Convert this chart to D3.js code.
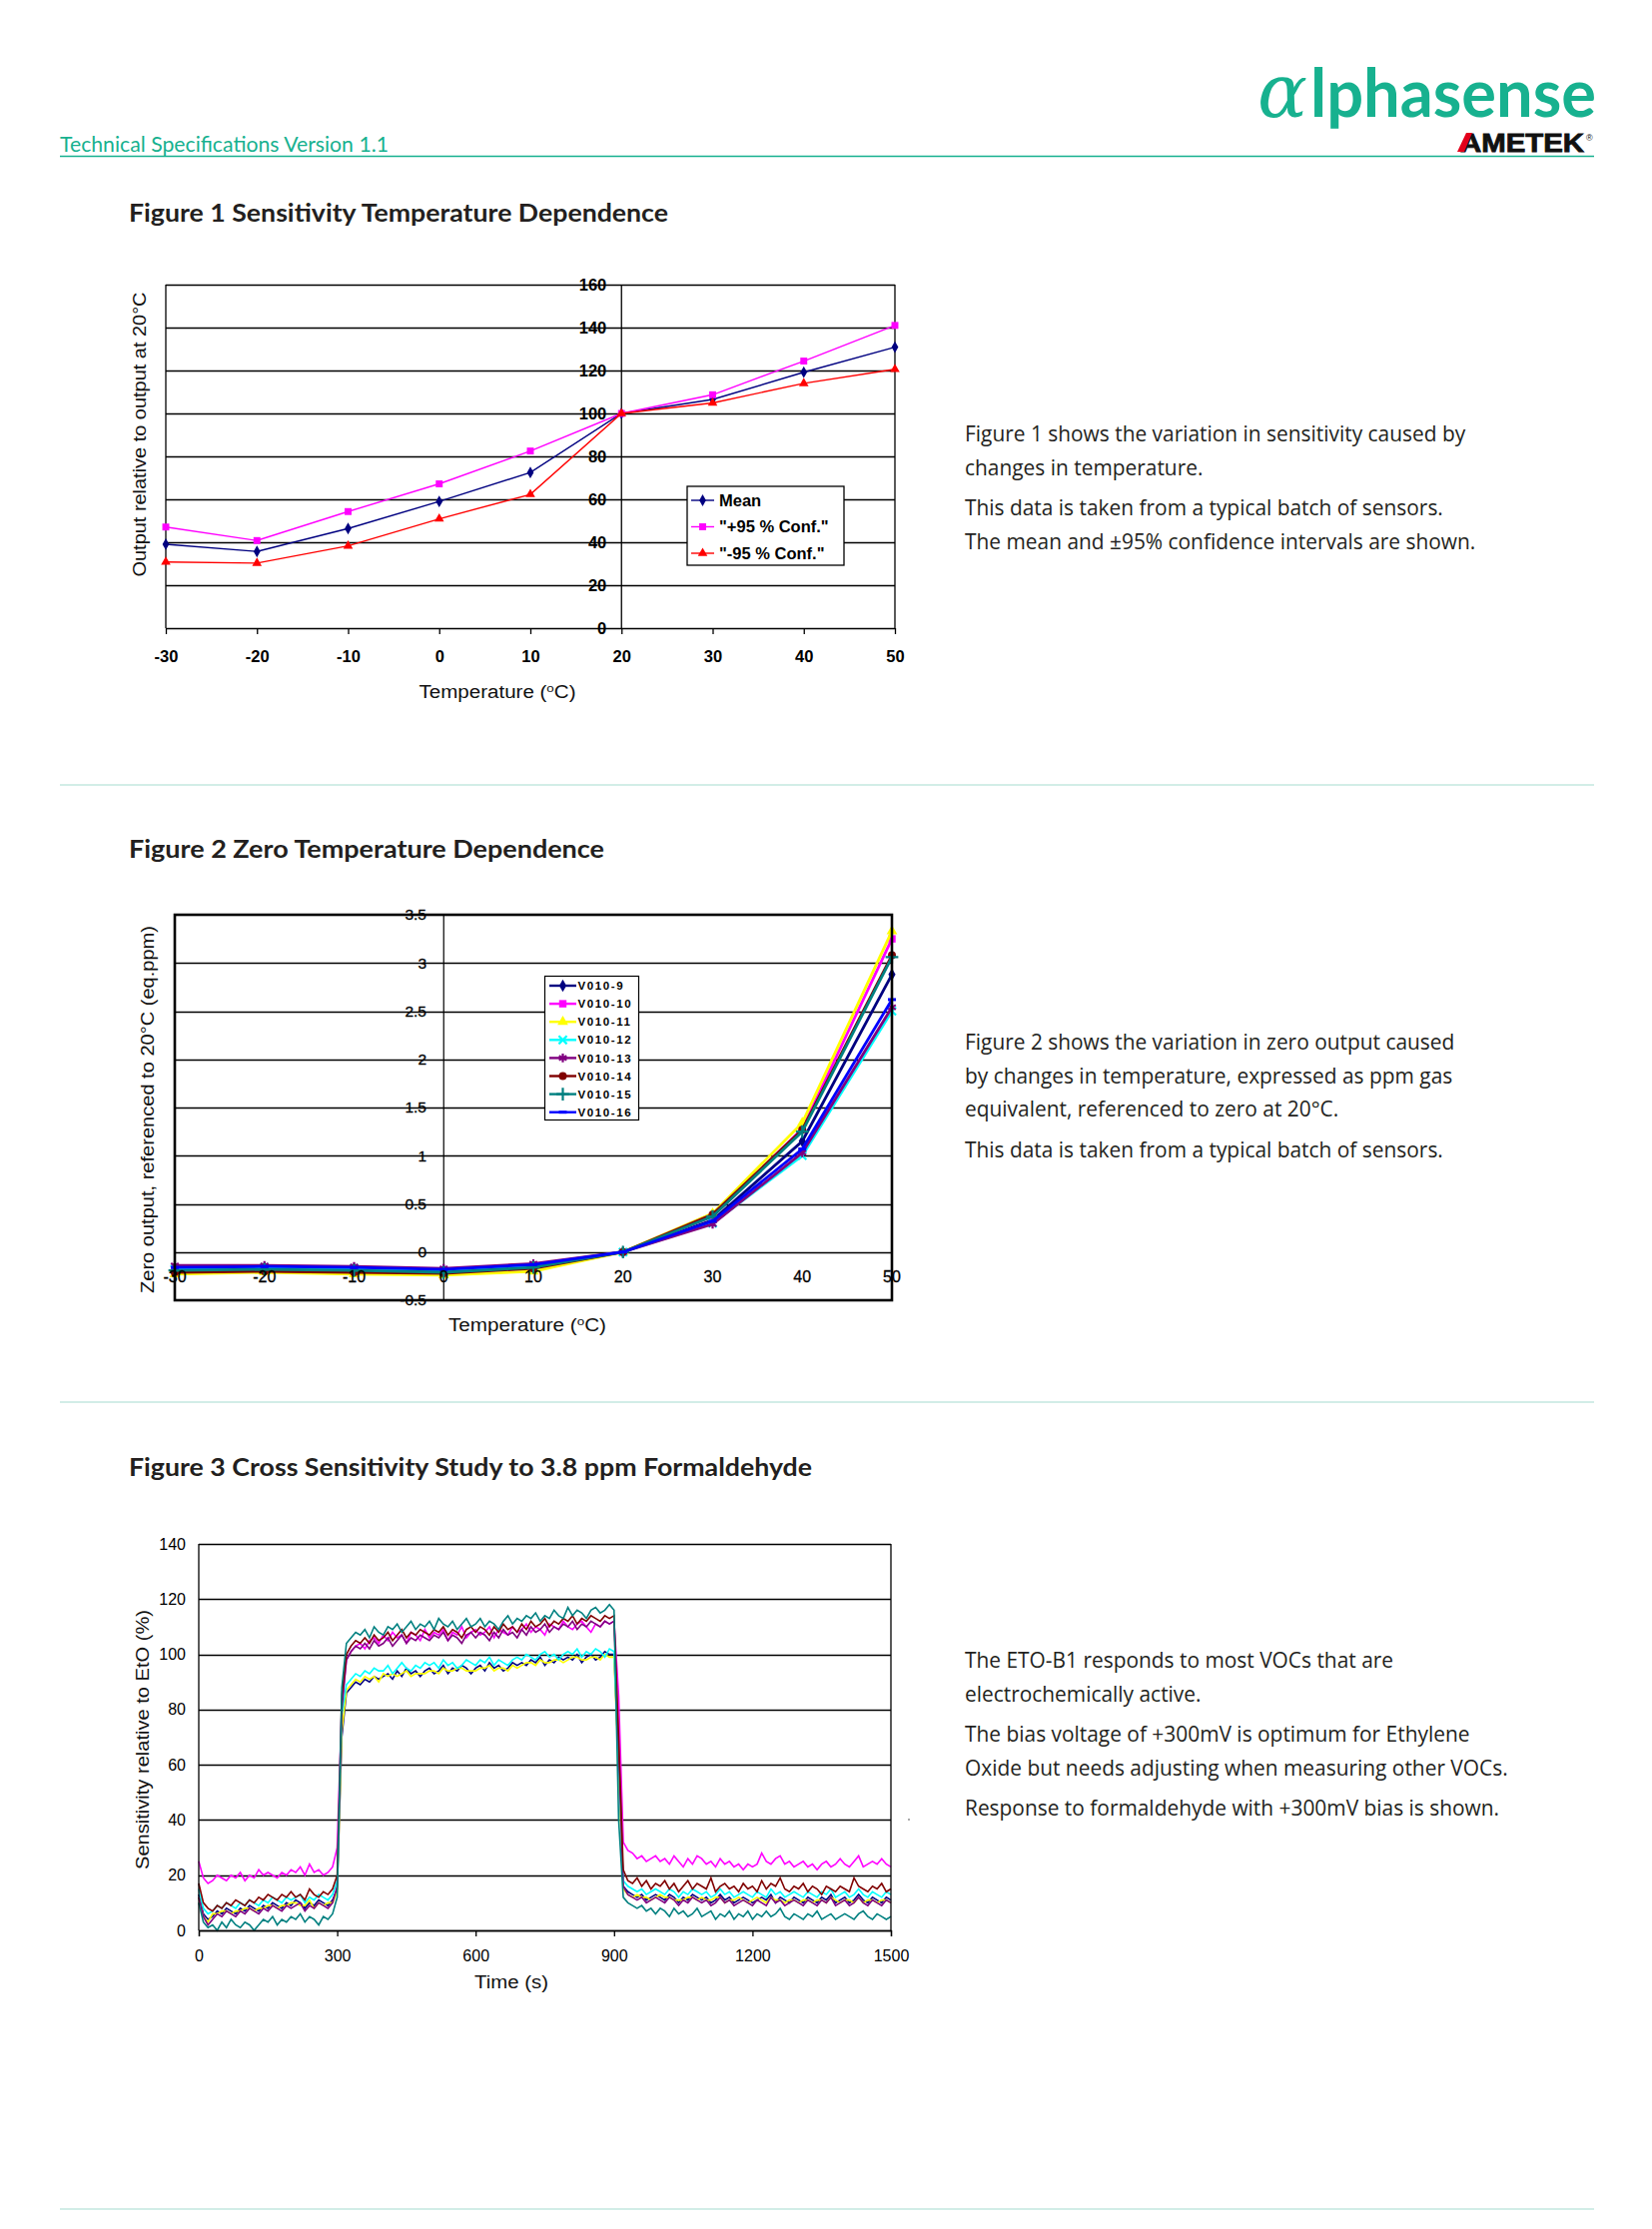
<!DOCTYPE html>
<html>
<head>
<meta charset="utf-8">
<script src="https://cdn.jsdelivr.net/npm/d3@7"></script>
<style>
  html, body { margin: 0; padding: 0; background: #fff; }
  svg { display: block; }
</style>
</head>
<body>
<div id="page"></div>
<script>
// ---------- figure 1 data ----------
const fig1Temps = [-30, -20, -10, 0, 10, 20, 30, 40, 50];
const fig1Mean  = [39.1, 35.7, 46.4, 59.0, 72.5, 100, 106.5, 119.2, 130.9];
const fig1Upper = [47.1, 40.8, 54.3, 67.2, 82.5, 100, 108.7, 124.4, 141.0];
const fig1Lower = [30.8, 30.3, 38.3, 50.9, 62.3, 100, 104.9, 114.0, 120.6];
const fig1Names = ['Mean', '"+95 % Conf."', '"-95 % Conf."'];
const fig1YTicks = [0, 20, 40, 60, 80, 100, 120, 140, 160];

// ---------- figure 2 data ----------
const fig2Temps = [-30, -20, -10, 0, 10, 20, 30, 40, 50];
const v010_9  = [-0.17, -0.16, -0.17, -0.19, -0.14, 0, 0.33, 1.15, 2.88];
const v010_10 = [-0.20, -0.18, -0.19, -0.21, -0.15, 0, 0.37, 1.28, 3.25];
const v010_11 = [-0.23, -0.21, -0.23, -0.24, -0.20, 0, 0.40, 1.34, 3.33];
const v010_12 = [-0.18, -0.16, -0.17, -0.20, -0.15, 0, 0.30, 1.00, 2.50];
const v010_13 = [-0.14, -0.14, -0.15, -0.17, -0.12, 0, 0.29, 1.03, 2.54];
const v010_14 = [-0.21, -0.20, -0.21, -0.22, -0.17, 0, 0.39, 1.27, 3.08];
const v010_15 = [-0.19, -0.18, -0.19, -0.21, -0.16, 0, 0.37, 1.25, 3.06];
const v010_16 = [-0.16, -0.15, -0.16, -0.18, -0.13, 0, 0.32, 1.07, 2.62];
const fig2Names = ['V010-9', 'V010-10', 'V010-11', 'V010-12', 'V010-13', 'V010-14', 'V010-15', 'V010-16'];
const fig2YTicks = [-0.5, 0, 0.5, 1, 1.5, 2, 2.5, 3, 3.5];

// ---------- figure 3 data (one reading every 10 s, 0..1500 s) ----------
const fig3Step = 10;
const f3Navy = [
  13, 6, 4, 5, 7, 6, 8, 7, 6, 8,
  7, 9, 8, 7, 9, 8, 10, 9, 8, 10,
  9, 11, 10, 8, 10, 9, 11, 10, 9, 11,
  15, 70, 86, 88, 90, 89, 91, 90, 92, 91,
  92, 93, 91, 94, 92, 95, 93, 94, 92, 94,
  95, 93, 94, 96, 93, 95, 94, 96, 95, 93,
  95, 96, 94, 97, 95, 96, 94, 95, 97, 96,
  97, 96, 98, 97, 99, 96, 98, 97, 99, 98,
  99, 98, 100, 97, 99, 100, 98, 99, 101, 100,
  100, 60, 16, 14, 13, 12, 13, 11, 12, 13,
  12, 11, 13, 12, 10, 12, 11, 13, 12, 11,
  12, 10, 11, 13, 11, 12, 10, 11, 12, 11,
  10, 11, 12, 11, 13, 10, 12, 11, 10, 12,
  11, 10, 12, 11, 10, 12, 11, 13, 10, 11,
  12, 10, 11, 13, 11, 10, 12, 11, 10, 12,
  11];
const f3Magenta = [
  25, 19, 17, 18, 20, 19, 18, 20, 19, 21,
  18, 20, 19, 22, 20, 21, 20, 19, 21, 20,
  22, 21, 23, 20, 24, 21, 22, 20, 21, 23,
  30, 82, 98, 101, 103, 104, 102, 105, 106, 104,
  107, 105, 108, 106, 107, 104, 108, 107, 105, 109,
  106, 108, 107, 109, 105, 108, 107, 110, 106, 108,
  109, 107, 108, 110, 106, 109, 108, 107, 110, 108,
  109, 111, 108, 110, 109, 107, 111, 110, 109, 112,
  110, 109, 111, 112, 110, 108, 111, 110, 112, 111,
  112, 85, 32, 29, 28, 26, 27, 25, 26, 27,
  25, 26, 24, 27, 25, 23, 26, 24, 27, 26,
  24, 25, 23, 26, 24, 25, 23, 24, 22, 24,
  23, 24, 28, 25, 24, 26, 27, 24, 25, 23,
  24, 25, 23, 24, 22, 24, 25, 23, 24, 26,
  24, 23, 25, 27, 23, 24, 25, 24, 26, 24,
  23];
const f3Yellow = [
  12, 5, 3, 6, 6, 7, 7, 6, 7, 7,
  8, 8, 7, 8, 8, 9, 9, 8, 9, 9,
  10, 10, 9, 9, 11, 8, 10, 9, 10, 10,
  14, 72, 87, 89, 91, 90, 92, 91, 92, 90,
  93, 92, 93, 92, 93, 94, 92, 93, 93, 93,
  94, 94, 93, 95, 94, 94, 95, 95, 94, 94,
  94, 95, 95, 96, 94, 95, 95, 94, 96, 95,
  96, 97, 97, 96, 98, 97, 97, 98, 98, 97,
  98, 99, 99, 98, 98, 99, 99, 98, 100, 99,
  99, 58, 15, 13, 12, 13, 12, 12, 11, 12,
  13, 12, 12, 11, 11, 11, 12, 12, 11, 12,
  11, 11, 12, 12, 10, 11, 11, 12, 11, 10,
  11, 12, 11, 10, 12, 11, 11, 10, 11, 11,
  10, 11, 11, 10, 11, 11, 10, 12, 11, 10,
  11, 11, 10, 12, 10, 11, 11, 10, 11, 11,
  10];
const f3Cyan = [
  15, 8, 6, 7, 9, 8, 10, 9, 8, 10,
  9, 11, 10, 9, 11, 10, 12, 11, 10, 12,
  11, 12, 13, 10, 12, 11, 13, 12, 11, 13,
  18, 78, 89, 91, 93, 92, 94, 93, 95, 94,
  94, 96, 93, 95, 97, 95, 94, 96, 95, 97,
  96, 97, 95, 98, 96, 97, 95, 96, 98, 97,
  96, 98, 97, 99, 96, 98, 97, 96, 98, 99,
  98, 100, 99, 98, 100, 101, 99, 100, 98, 100,
  101, 100, 102, 99, 101, 100, 102, 101, 99, 102,
  101, 62, 18, 16, 15, 14, 15, 13, 14, 15,
  14, 13, 15, 14, 12, 14, 13, 15, 14, 13,
  14, 12, 13, 15, 13, 14, 12, 13, 14, 13,
  12, 14, 13, 12, 15, 13, 14, 12, 13, 14,
  13, 12, 14, 13, 12, 14, 13, 15, 12, 13,
  14, 12, 13, 15, 13, 12, 14, 13, 12, 14,
  13];
const f3Purple = [
  12, 5, 2, 4, 6, 5, 7, 6, 5, 7,
  6, 8, 7, 6, 8, 7, 9, 8, 7, 9,
  8, 9, 10, 7, 9, 8, 10, 9, 8, 10,
  16, 80, 98, 101, 103, 102, 104, 102, 105, 103,
  104, 106, 103, 105, 107, 104, 106, 105, 107, 106,
  105, 107, 106, 108, 105, 107, 106, 104, 107, 108,
  106, 108, 107, 105, 108, 106, 109, 107, 108, 106,
  109, 107, 110, 108, 109, 111, 108, 110, 109, 111,
  110, 112, 109, 111, 110, 112, 111, 110, 112, 111,
  112, 66, 16, 13, 12, 11, 12, 10, 11, 12,
  11, 10, 12, 11, 9, 11, 10, 12, 11, 10,
  11, 9, 10, 12, 10, 11, 9, 10, 11, 10,
  9, 11, 10, 9, 12, 10, 11, 9, 10, 11,
  10, 9, 11, 10, 9, 11, 10, 12, 9, 10,
  11, 9, 10, 12, 10, 9, 11, 10, 9, 11,
  10];
const f3Maroon = [
  17, 10, 8, 7, 9, 8, 10, 9, 11, 10,
  9, 11, 10, 12, 11, 13, 12, 11, 13, 12,
  14, 12, 13, 11, 15, 13, 12, 14, 13, 15,
  20, 85, 100, 103, 105, 104, 106, 104, 107, 105,
  106, 108, 105, 107, 109, 106, 108, 107, 109, 108,
  107, 109, 108, 110, 107, 109, 108, 106, 109, 110,
  108, 110, 109, 107, 110, 108, 111, 109, 110, 108,
  111, 109, 112, 110, 111, 113, 110, 112, 111, 113,
  112, 114, 111, 113, 112, 114, 113, 112, 114, 113,
  114, 70, 22, 18, 17, 19, 16, 18, 15, 17,
  16, 18, 15, 17, 14, 16, 18, 15, 17, 16,
  15, 19, 14, 16, 17, 15, 16, 14, 17, 15,
  16, 14, 18, 15, 17, 16, 19, 15, 14, 16,
  15, 17, 14, 16, 15, 13, 16, 15, 14, 16,
  15, 14, 19, 16, 15, 14, 16, 15, 17, 14,
  15];
const f3Teal = [
  10, 3, 1, 2, 0, 3, 1, 4, 2, 1,
  3, 2, 0, 2, 4, 3, 5, 2, 4, 3,
  5, 4, 6, 3, 5, 4, 2, 5, 4, 6,
  12, 88, 104, 106, 108, 107, 109, 106, 110, 108,
  107, 110, 109, 111, 108, 110, 112, 109, 111, 110,
  112, 109, 113, 111, 110, 112, 109, 111, 113, 110,
  111, 113, 110, 112, 111, 109, 112, 114, 111, 113,
  112, 114, 113, 115, 112, 114, 113, 116, 114, 113,
  117, 114, 116, 115, 113, 116, 117, 115, 116, 118,
  116, 40, 12, 10, 9, 8, 9, 7, 8, 6,
  8, 7, 5, 8, 6, 7, 5, 6, 8, 5,
  6, 7, 4, 6, 5, 7, 4, 6, 5, 7,
  4, 6, 5, 7, 5, 6, 8, 5, 4, 6,
  5, 4, 6, 5, 7, 4, 5, 6, 4, 5,
  6, 5, 4, 6, 7, 5, 4, 6, 5, 4,
  5];
const fig3YTicks = [0, 20, 40, 60, 80, 100, 120, 140];
const fig3XTicks = [0, 300, 600, 900, 1200, 1500];

// ---------- page text ----------
const para1 = [
  ['Figure 1 shows the variation in sensitivity caused by', 442],
  ['changes in temperature.', 476],
  ['This data is taken from a typical batch of sensors.', 516],
  ['The mean and \u00b195% confidence intervals are shown.', 550]
];
const para2 = [
  ['Figure 2 shows the variation in zero output caused', 1051],
  ['by changes in temperature, expressed as ppm gas', 1085],
  ['equivalent, referenced to zero at 20\u00b0C.', 1118],
  ['This data is taken from a typical batch of sensors.', 1159]
];
const para3 = [
  ['The ETO-B1 responds to most VOCs that are', 1670],
  ['electrochemically active.', 1704],
  ['The bias voltage of +300mV is optimum for Ethylene', 1744],
  ['Oxide but needs adjusting when measuring other VOCs.', 1778],
  ['Response to formaldehyde with +300mV bias is shown.', 1818]
];

const W = 1654, H = 2232;
const green = '#17b18f';
const arial = '"Liberation Sans", Arial, sans-serif';
const bodyFont = '"Open Sans", "Noto Sans", sans-serif';
const titleFont = 'Lato, "Noto Sans", sans-serif';

const svg = d3.select('#page').append('svg')
  .attr('width', W).attr('height', H)
  .attr('viewBox', [0, 0, W, H]);
svg.append('rect').attr('width', W).attr('height', H).attr('fill', '#fff');

// ---------- header ----------
svg.append('text')
  .attr('x', 60).attr('y', 152)
  .attr('font-family', titleFont).attr('font-size', 21).attr('font-weight', 400)
  .attr('fill', green)
  .attr('textLength', 329).attr('lengthAdjust', 'spacingAndGlyphs')
  .text('Technical Specifications Version 1.1');
svg.append('line')
  .attr('x1', 60).attr('x2', 1596).attr('y1', 156.5).attr('y2', 156.5)
  .attr('stroke', green).attr('stroke-width', 1.5);

// logo
svg.append('text')
  .attr('x', 1259).attr('y', 117)
  .attr('font-family', '"DejaVu Serif", serif').attr('font-style', 'italic')
  .attr('font-size', 74).attr('fill', green)
  .text('\u03b1');
svg.append('text')
  .attr('x', 1312).attr('y', 117)
  .attr('font-family', titleFont).attr('font-weight', 700)
  .attr('font-size', 66).attr('fill', green)
  .attr('textLength', 286).attr('lengthAdjust', 'spacingAndGlyphs')
  .text('lphasense');
svg.append('text')
  .attr('x', 1462).attr('y', 152)
  .attr('font-family', arial).attr('font-weight', 700)
  .attr('font-size', 25).attr('fill', '#111')
  .attr('textLength', 124).attr('lengthAdjust', 'spacingAndGlyphs')
  .attr('stroke', '#111').attr('stroke-width', 0.8)
  .text('AMETEK');
svg.append('path')
  .attr('d', 'M1459,152 L1466,152 L1474,133 L1468,133 Z')
  .attr('fill', '#e3001b');
svg.append('text')
  .attr('x', 1588).attr('y', 141)
  .attr('font-family', arial).attr('font-size', 9).attr('fill', '#111')
  .text('\u00ae');

// section titles and dividers
const titles = [
  ['Figure 1 Sensitivity Temperature Dependence', 222, 540],
  ['Figure 2 Zero Temperature Dependence', 859, 476],
  ['Figure 3 Cross Sensitivity Study to 3.8 ppm Formaldehyde', 1478, 684]
];
titles.forEach(t => {
  svg.append('text')
    .attr('x', 129).attr('y', t[1])
    .attr('font-family', titleFont).attr('font-weight', 700)
    .attr('font-size', 24).attr('fill', '#231f20')
    .attr('textLength', t[2]).attr('lengthAdjust', 'spacingAndGlyphs')
    .text(t[0]);
});
[786, 1404, 2212].forEach(y => {
  svg.append('line')
    .attr('x1', 60).attr('x2', 1596).attr('y1', y).attr('y2', y)
    .attr('stroke', '#a6dccf').attr('stroke-width', 1.2);
});

// paragraphs
[para1, para2, para3].forEach(p => {
  p.forEach(l => {
    svg.append('text')
      .attr('x', 966).attr('y', l[1])
      .attr('font-family', bodyFont).attr('font-size', 20.9)
      .attr('fill', '#231f20')
      .text(l[0]);
  });
});

// helper for axis titles
function axisTitle(txt, x, y, len, size, rotate, sup) {
  const t = svg.append('text')
    .attr('font-family', arial).attr('font-size', size).attr('fill', '#111')
    .attr('text-anchor', 'middle')
    .attr('transform', `translate(${x},${y})` + (rotate ? ' rotate(-90)' : ''))
    .attr('dy', '0.35em')
    .attr('textLength', len).attr('lengthAdjust', 'spacingAndGlyphs');
  if (sup) {
    t.append('tspan').text(txt[0]);
    t.append('tspan').attr('dy', -6).attr('font-size', size * 0.65).text('o');
    t.append('tspan').attr('dy', 6).text(txt[1]);
  } else {
    t.text(txt);
  }
}

const signed = d => d < 0 ? '-' + Math.abs(d) : String(d);

// ---------- Figure 1 ----------
{
  const x = d3.scaleLinear().domain([-30, 50]).range([166, 896]);
  const y = d3.scaleLinear().domain([0, 160]).range([629, 285]);
  const g = svg.append('g');

  g.selectAll('.grid').data(fig1YTicks).join('line')
    .attr('x1', x(-30)).attr('x2', x(50))
    .attr('y1', d => Math.round(y(d)) + 0.5).attr('y2', d => Math.round(y(d)) + 0.5)
    .attr('stroke', '#000').attr('stroke-width', 1.3);
  [-30, 20, 50].forEach(v => {
    g.append('line')
      .attr('x1', x(v)).attr('x2', x(v)).attr('y1', y(160)).attr('y2', y(0))
      .attr('stroke', '#000').attr('stroke-width', 1.3);
  });

  // x axis along zero
  const xAxis = d3.axisBottom(x).tickValues(fig1Temps).tickSize(6).tickPadding(16)
    .tickFormat(signed);
  const gx = g.append('g').attr('transform', `translate(0,${y(0)})`).call(xAxis);
  gx.select('.domain').remove();
  gx.selectAll('line').attr('stroke', '#000').attr('stroke-width', 1.3);
  gx.selectAll('text').attr('font-family', arial).attr('font-size', 16.5)
    .attr('font-weight', 700).attr('fill', '#000');

  // y labels sitting on the 20 degree line
  g.selectAll('.ylab').data(fig1YTicks).join('text')
    .attr('x', x(20) - 15).attr('y', d => y(d)).attr('dy', '0.35em')
    .attr('text-anchor', 'end')
    .attr('font-family', arial).attr('font-size', 16.5).attr('font-weight', 700)
    .attr('fill', '#000')
    .text(d => d);

  const series = [
    { vals: fig1Mean, color: '#000080', sym: d3.symbolDiamond, size: 40 },
    { vals: fig1Upper, color: '#ff00ff', sym: d3.symbolSquare, size: 48 },
    { vals: fig1Lower, color: '#ff0000', sym: d3.symbolTriangle, size: 40 }
  ];
  const line = d3.line().x((d, i) => x(fig1Temps[i])).y(d => y(d));
  series.forEach(s => {
    g.append('path').datum(s.vals)
      .attr('fill', 'none').attr('stroke', s.color).attr('stroke-width', 1.4)
      .attr('d', line);
    g.selectAll(null).data(s.vals).join('path')
      .attr('transform', (d, i) => `translate(${x(fig1Temps[i])},${y(d)})`)
      .attr('d', d3.symbol(s.sym, s.size))
      .attr('fill', s.color);
  });

  // legend
  const lg = g.append('g').attr('transform', 'translate(688,487)');
  lg.append('rect').attr('width', 157).attr('height', 79)
    .attr('fill', '#fff').attr('stroke', '#000').attr('stroke-width', 1.3);
  series.forEach((s, i) => {
    const ry = 14 + i * 26.5;
    lg.append('line').attr('x1', 4).attr('x2', 27).attr('y1', ry).attr('y2', ry)
      .attr('stroke', s.color).attr('stroke-width', 1.4);
    lg.append('path').attr('transform', `translate(15.5,${ry})`)
      .attr('d', d3.symbol(s.sym, s.size)).attr('fill', s.color);
    lg.append('text').attr('x', 32).attr('y', ry).attr('dy', '0.35em')
      .attr('font-family', arial).attr('font-size', 16.5).attr('font-weight', 700)
      .attr('fill', '#000')
      .text(fig1Names[i]);
  });

  axisTitle(['Temperature (', 'C)'], 498, 693, 157, 18, false, true);
  axisTitle('Output relative to output at 20\u00b0C', 140, 435, 285, 18, true, false);
}

// ---------- Figure 2 ----------
{
  const x = d3.scaleLinear().domain([-30, 50]).range([175, 893]);
  const y = d3.scaleLinear().domain([-0.5, 3.5]).range([1302, 916]);
  const g = svg.append('g');

  g.selectAll('.grid').data(fig2YTicks.slice(1, -1)).join('line')
    .attr('x1', x(-30)).attr('x2', x(50))
    .attr('y1', d => Math.round(y(d)) + 0.5).attr('y2', d => Math.round(y(d)) + 0.5)
    .attr('stroke', '#000').attr('stroke-width', 1.3);
  g.append('line')
    .attr('x1', x(0)).attr('x2', x(0)).attr('y1', y(3.5)).attr('y2', y(-0.5))
    .attr('stroke', '#000').attr('stroke-width', 1.2);

  const series = [
    { vals: v010_9,  color: '#000080', sym: d3.symbolDiamond, size: 45 },
    { vals: v010_10, color: '#ff00ff', sym: d3.symbolSquare, size: 55 },
    { vals: v010_11, color: '#ffff00', sym: d3.symbolTriangle, size: 50 },
    { vals: v010_12, color: '#00ffff', sym: d3.symbolX, size: 45, stroke: true },
    { vals: v010_13, color: '#800080', sym: d3.symbolAsterisk, size: 55, stroke: true },
    { vals: v010_14, color: '#800000', sym: d3.symbolCircle, size: 50 },
    { vals: v010_15, color: '#008080', sym: d3.symbolPlus, size: 55, stroke: true },
    { vals: v010_16, color: '#0000ff', sym: null, size: 0 }
  ];
  const line = d3.line().x((d, i) => x(fig2Temps[i])).y(d => y(d));
  function marker(sel, s) {
    if (!s.sym) {
      sel.append('rect').attr('x', -4).attr('y', -1.5).attr('width', 8).attr('height', 3)
        .attr('fill', s.color);
    } else if (s.stroke) {
      sel.append('path').attr('d', d3.symbol(s.sym, s.size))
        .attr('fill', 'none').attr('stroke', s.color).attr('stroke-width', 2.2);
    } else {
      sel.append('path').attr('d', d3.symbol(s.sym, s.size)).attr('fill', s.color);
    }
  }
  series.forEach(s => {
    g.append('path').datum(s.vals)
      .attr('fill', 'none').attr('stroke', s.color).attr('stroke-width', 2.8)
      .attr('d', line);
    g.selectAll(null).data(s.vals).join('g')
      .attr('transform', (d, i) => `translate(${x(fig2Temps[i])},${y(d)})`)
      .each(function () { marker(d3.select(this), s); });
  });

  // frame
  g.append('rect')
    .attr('x', x(-30)).attr('y', y(3.5))
    .attr('width', x(50) - x(-30)).attr('height', y(-0.5) - y(3.5))
    .attr('fill', 'none').attr('stroke', '#000').attr('stroke-width', 2.6);

  // tick labels
  g.selectAll('.ylab').data(fig2YTicks).join('text')
    .attr('x', 427).attr('y', d => y(d)).attr('dy', '0.35em')
    .attr('text-anchor', 'end')
    .attr('font-family', arial).attr('font-size', 15.5).attr('fill', '#000')
    .attr('stroke', '#000').attr('stroke-width', 0.3)
    .text(signed);
  g.selectAll('.xlab').data(fig2Temps).join('text')
    .attr('x', d => x(d)).attr('y', 1278).attr('dy', '0.35em')
    .attr('text-anchor', 'middle')
    .attr('font-family', arial).attr('font-size', 16).attr('fill', '#000')
    .attr('stroke', '#000').attr('stroke-width', 0.3)
    .text(signed);

  // legend
  const lg = g.append('g').attr('transform', 'translate(545.5,977.5)');
  lg.append('rect').attr('width', 94).attr('height', 144)
    .attr('fill', '#fff').attr('stroke', '#000').attr('stroke-width', 1.2);
  series.forEach((s, i) => {
    const ry = 9.5 + i * 18.1;
    lg.append('line').attr('x1', 4.5).attr('x2', 31.5).attr('y1', ry).attr('y2', ry)
      .attr('stroke', s.color).attr('stroke-width', 2.4);
    marker(lg.append('g').attr('transform', `translate(18,${ry})`), s);
    lg.append('text').attr('x', 33).attr('y', ry).attr('dy', '0.36em')
      .attr('font-family', arial).attr('font-size', 11.5).attr('font-weight', 700)
      .attr('letter-spacing', 1.6).attr('fill', '#000')
      .text(fig2Names[i]);
  });

  axisTitle(['Temperature (', 'C)'], 528, 1327, 158, 18, false, true);
  axisTitle('Zero output, referenced to 20\u00b0C (eq.ppm)', 148, 1111, 368, 18, true, false);
}

// ---------- Figure 3 ----------
{
  const x = d3.scaleLinear().domain([0, 1500]).range([199, 892]);
  const y = d3.scaleLinear().domain([0, 140]).range([1933, 1546]);
  const g = svg.append('g');

  g.selectAll('.grid').data(fig3YTicks).join('line')
    .attr('x1', x(0)).attr('x2', x(1500))
    .attr('y1', d => Math.round(y(d)) + 0.5).attr('y2', d => Math.round(y(d)) + 0.5)
    .attr('stroke', '#000').attr('stroke-width', 1.3);

  const series = [
    { vals: f3Navy, color: '#000080' },
    { vals: f3Magenta, color: '#ff00ff' },
    { vals: f3Yellow, color: '#ffff00' },
    { vals: f3Cyan, color: '#00ffff' },
    { vals: f3Purple, color: '#800080' },
    { vals: f3Maroon, color: '#800000' },
    { vals: f3Teal, color: '#008080' }
  ];
  const line = d3.line().x((d, i) => x(i * fig3Step)).y(d => y(d));
  series.forEach(s => {
    g.append('path').datum(s.vals)
      .attr('fill', 'none').attr('stroke', s.color).attr('stroke-width', 1.6)
      .attr('stroke-linejoin', 'miter')
      .attr('d', line);
  });

  [0, 1500].forEach(v => {
    g.append('line')
      .attr('x1', x(v)).attr('x2', x(v)).attr('y1', y(140)).attr('y2', y(0))
      .attr('stroke', '#000').attr('stroke-width', 1.3);
  });

  const xAxis = d3.axisBottom(x).tickValues(fig3XTicks).tickSize(6).tickPadding(14)
    .tickFormat(d3.format('d'));
  const gx = g.append('g').attr('transform', `translate(0,${y(0)})`).call(xAxis);
  gx.select('.domain').attr('stroke-width', 1.3);
  gx.selectAll('line').attr('stroke', '#000').attr('stroke-width', 1.3);
  gx.selectAll('text').attr('font-family', arial).attr('font-size', 16).attr('fill', '#000');

  g.selectAll('.ylab').data(fig3YTicks).join('text')
    .attr('x', 186).attr('y', d => y(d)).attr('dy', '0.35em')
    .attr('text-anchor', 'end')
    .attr('font-family', arial).attr('font-size', 16).attr('fill', '#000')
    .text(d => d);

  // stray mark right of the plot
  g.append('line').attr('x1', 909).attr('x2', 911).attr('y1', 1822).attr('y2', 1822)
    .attr('stroke', '#555').attr('stroke-width', 1);

  axisTitle('Time (s)', 512, 1985, 74, 18, false, false);
  axisTitle('Sensitivity relative to EtO (%)', 143, 1742, 260, 18, true, false);
}
</script>
</body>
</html>
